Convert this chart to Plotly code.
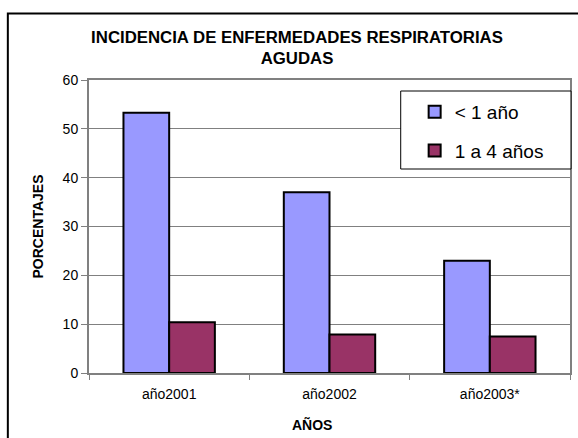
import plotly.graph_objects as go

categories = ["año2001", "año2002", "año2003*"]
menores_1 = [53.3, 37.0, 23.0]
de_1_a_4 = [10.4, 7.9, 7.5]
series_names = ["< 1 año", "1 a 4 años"]
y_ticks = [0, 10, 20, 30, 40, 50, 60]

FONT = "Liberation Sans, Arial, sans-serif"

# plot area geometry (px)
L, R, T, B = 89, 6, 80, 65
W, H = 578, 438
PW, PH = W - L - R, H - T - B

def px(x):
    return (x - L) / PW

def py(y):
    return (T + PH - y) / PH

fig = go.Figure()
fig.add_trace(go.Bar(x=categories, y=menores_1, name=series_names[0],
                     marker=dict(color="#9999FF", line=dict(color="black", width=2)),
                     legendgroup="a"))
fig.add_trace(go.Bar(x=categories, y=de_1_a_4, name=series_names[1],
                     marker=dict(color="#993366", line=dict(color="black", width=2)),
                     legendgroup="b"))

border_path = "M {x1},{yt} L {x0},{yt} L {x0},{yb}".format(
    x0=px(7.5), x1=px(620), yt=py(13.5), yb=py(480))

fig.update_layout(
    width=W, height=H,
    margin=dict(l=L, r=R, t=T, b=B),
    paper_bgcolor="white", plot_bgcolor="white",
    font=dict(family=FONT, color="black"),
    barmode="group", bargap=0.43, bargroupgap=0,
    title=dict(text="INCIDENCIA DE ENFERMEDADES RESPIRATORIAS<br>AGUDAS",
               font=dict(family=FONT, size=16.8, color="black", weight="bold"),
               x=297 / W, xref="container", xanchor="center",
               y=1 - 42.5 / H, yref="container", yanchor="middle"),
    showlegend=True,
    legend=dict(x=px(416), y=py(93), xanchor="left", yanchor="top",
                bgcolor="rgba(0,0,0,0)", borderwidth=0,
                font=dict(family=FONT, size=19, color="black"),
                tracegroupgap=11),
    xaxis=dict(showgrid=False, showline=True, linecolor="#808080", linewidth=2,
               mirror=True, ticks="outside", tickson="boundaries", ticklen=5,
               tickcolor="#808080", tickwidth=1, ticklabelstandoff=7,
               tickfont=dict(family=FONT, size=14, color="black")),
    yaxis=dict(range=[0, 60], tickvals=y_ticks, showgrid=True, gridcolor="#808080",
               gridwidth=1, zeroline=False, showline=True, linecolor="#808080",
               linewidth=2, mirror=True, ticks="outside", ticklen=6,
               tickcolor="#808080", tickwidth=1,
               tickfont=dict(family=FONT, size=14, color="black"),
               title=dict(text="PORCENTAJES", standoff=16,
                          font=dict(family=FONT, size=14, color="black", weight="bold"))),
    shapes=[
        dict(type="path", xref="paper", yref="paper", path=border_path,
             line=dict(color="black", width=2), layer="below"),
        dict(type="rect", xref="paper", yref="paper",
             x0=px(402), x1=px(573), y0=py(169), y1=py(91),
             line=dict(color="black", width=1), fillcolor="white", layer="above"),
    ],
    annotations=[
        dict(text="<b>AÑOS</b>", xref="paper", yref="paper", x=px(313), y=py(424),
             xanchor="center", yanchor="middle", showarrow=False,
             font=dict(family=FONT, size=14, color="black")),
    ],
)

fig.write_html("out.html", config={"displayModeBar": False},
               post_script="document.body.style.margin='0';document.body.style.overflow='hidden';")
